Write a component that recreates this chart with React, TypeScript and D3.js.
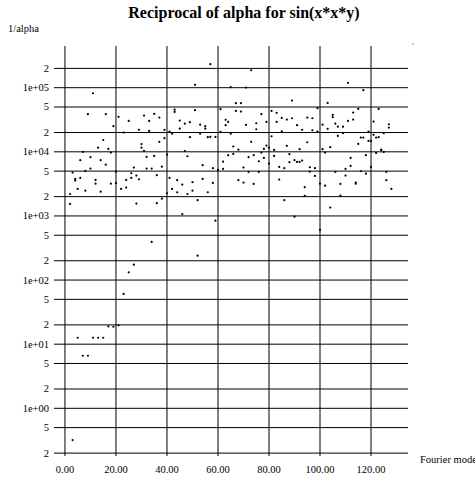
import React from 'react';
import * as d3 from 'd3';

const W = 475;
const H = 480;

const chartTitle = 'Reciprocal of alpha for sin(x*x*y)';
const yAxisTitle = '1/alpha';
const xAxisTitle = 'Fourier mode';

const modes = [
  2, 3, 4, 5, 6, 7, 8, 9, 10, 11, 12, 13, 14, 15, 16, 17, 18, 19, 20, 21,
  22, 23, 24, 25, 26, 27, 28, 29, 30, 31, 32, 33, 34, 35, 36, 37, 38, 39, 40, 41,
  42, 43, 44, 45, 46, 47, 48, 49, 50, 51, 52, 53, 54, 55, 56, 57, 58, 59, 60, 61,
  62, 63, 64, 65, 66, 67, 68, 69, 70, 71, 72, 73, 74, 75, 76, 77, 78, 79, 80, 81,
  82, 83, 84, 85, 86, 87, 88, 89, 90, 91, 92, 93, 94, 95, 96, 97, 98, 99, 100, 101,
  102, 103, 104, 105, 106, 107, 108, 109, 110, 111, 112, 113, 114, 115, 116, 117, 118, 119, 120, 121,
  122, 123, 124, 125, 126, 127, 128,
];

// first value per mode
const alphaFirst = [
  2200, 4740, 3780, 2640, 7400, 9950, 5040, 38600, 8240, 82000, 3650, 11600, 7400, 15300, 38600, 11100, 9730, 25100, 4910, 35100,
  2640, 20000, 3650, 30300, 4630, 5680, 4260, 22000, 13200, 36700, 8320, 30300, 5470, 39000, 4320, 34200, 5870, 22000, 9040, 20700,
  19200, 45500, 3610, 30700, 3080, 27500, 8530, 29000, 3360, 111000, 1760, 26500, 6180, 25100, 16900, 233000, 5550, 17100, 5220, 46200,
  7030, 31500, 29300, 102000, 12100, 57300, 10800, 57300, 5680, 100500, 8240, 187000, 8850, 27900, 7130, 38600, 11100, 29300, 11600, 43500,
  10700, 40500, 5810, 33800, 5550, 31800, 9180, 63000, 7400, 26000, 11000, 22000, 2810, 34200, 5750, 33400, 5550, 47900, 3190, 26500,
  9730, 57900, 11800, 37700, 27500, 24700, 3160, 24700, 5410, 119000, 8040, 40900, 3310, 46700, 16700, 91400, 8850, 20700, 14800, 29600,
  16700, 46700, 10800, 19500, 4850, 26900, 2640,
];

// second value per mode (null where none is visible)
const alphaSecond = [
  1540, 0.32, 3560, 12.6, 3920, 6.6, 2480, 6.6, 5470, 12.6, 3190, 12.6, 2390, 12.6, 6310, 19.0, 3190, 18.7, 3240, 19.7,
  null, 60.7, 2770, 132, 3920, 174, 1560, 3730, 11600, 10400, 5470, 21200, 393, 8630, 1580, 14300, 1860, 16300, 2260, 3920,
  2640, 41900, 2340, 23000, 1070, 10300, 2200, 16900, 2480, 44600, 240, 19200, 3780, 23000, 2340, 17100, 3270, 845, null, 20400,
  5410, 26000, 8850, 19200, 9270, 43500, 3610, 42400, 3310, 26300, 4850, 14300, 3160, 22500, 4850, 9730, 8040, 12500, 6550, 17500,
  8630, 29300, 3690, 20900, 1760, 12400, 6890, 33400, 975, 6950, 6950, 7290, 2050, 14100, 4910, 21700, 4210, 20700, 605, 11000,
  2970, 22800, 1350, 34700, 4850, 17700, 2070, 19500, 4260, 30300, 6030, 31800, 3190, 13300, 4980, 16700, 4570, 14800, 5810, 18400,
  9620, 16900, 10600, 9950, 3610, 23900, null,
];

const yTicks = [0.2, 0.5, 1, 2, 5, 10, 20, 50, 100, 200, 500, 1e3, 2e3, 5e3, 1e4, 2e4, 5e4, 1e5, 2e5];
const xTicks = [0, 20, 40, 60, 80, 100, 120];

const FONT = '"Liberation Serif", "Times New Roman", serif';

function fmtY(v: number): string {
  const e = Math.floor(Math.log10(v) + 1e-9);
  const m = Math.round(v / Math.pow(10, e));
  if (m === 1) {
    const sign = e >= 0 ? '+' : '-';
    return `1e${sign}${String(Math.abs(e)).padStart(2, '0')}`;
  }
  return String(m);
}

export default function App() {
  const x = d3.scaleLinear().domain([-4.3, 134.5]).range([54, 408]);
  const y = d3.scaleLog().domain([1, 1e5]).range([408.3, 87.7]);
  const fmtX = d3.format('.2f');

  const points: { m: number; v: number }[] = [];
  modes.forEach((m, i) => {
    points.push({ m, v: alphaFirst[i] });
    const s = alphaSecond[i];
    if (s != null) points.push({ m, v: s });
  });

  const [x0, x1] = x.range();
  const yTop = 46;
  const yBot = 456;

  return (
    <svg width={W} height={H} style={{ position: 'absolute', left: 0, top: 0, background: '#fff' }} fontFamily={FONT}>
      <rect x={0} y={0} width={W} height={H} fill="#fff" />
      <text x={244} y={17.5} textAnchor="middle" fontSize={16} fontWeight="bold" fill="#000">
        {chartTitle}
      </text>
      <text x={8} y={32} fontSize={10.5} fill="#000">
        {yAxisTitle}
      </text>
      <rect x={412} y={43.5} width={2} height={1} fill="#888" />
      {yTicks.map((t) => (
        <g key={'h' + t}>
          <line x1={x0} x2={x1} y1={y(t)} y2={y(t)} stroke="#000" strokeWidth={1} />
          <text x={49} y={y(t)} dy="0.33em" textAnchor="end" fontSize={10.5} fill="#000">
            {fmtY(t)}
          </text>
        </g>
      ))}
      {xTicks.map((t) => (
        <g key={'v' + t}>
          <line x1={x(t)} x2={x(t)} y1={yTop} y2={yBot} stroke="#000" strokeWidth={1} />
          <text x={x(t)} y={473} textAnchor="middle" fontSize={10.5} fill="#000">
            {fmtX(t)}
          </text>
        </g>
      ))}
      <text x={420} y={463} fontSize={10.5} fill="#000">
        {xAxisTitle}
      </text>
      {points.map((p, i) => (
        <circle key={i} cx={x(p.m)} cy={y(p.v)} r={1.1} fill="#000" />
      ))}
    </svg>
  );
}
